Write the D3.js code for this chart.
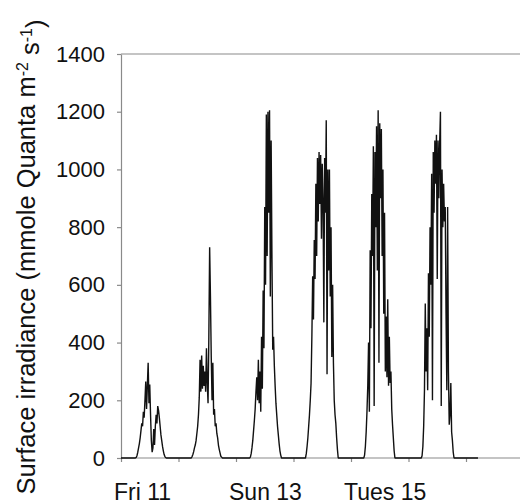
<!DOCTYPE html>
<html>
<head>
<meta charset="utf-8">
<script src="https://cdn.jsdelivr.net/npm/d3@7"></script>
<style>
  body { margin: 0; background: #fff; }
  svg { display: block; font-family: Arial, "Liberation Sans", sans-serif; }
</style>
</head>
<body>
<div id="chart"></div>
<script>
// irradiance readings, 20 minutes apart, from first light to dark
const stepMinutes = 20;
const dayDates = ["2008-04-11", "2008-04-12", "2008-04-13", "2008-04-14", "2008-04-15", "2008-04-16"];
const firstReading = ["06:00", "05:20", "05:40", "05:00", "05:20", "05:20"];

const fri = [0, 2, 8, 20, 35, 50, 70, 95, 120, 110, 160, 140, 200, 265, 170, 250, 330, 190, 255, 150,
  60, 20, 35, 100, 45, 110, 150, 120, 180, 165, 140, 110, 80, 60, 40, 25, 12, 5, 1, 0];
const sat = [0, 5, 12, 22, 35, 45, 60, 85, 110, 150, 210, 340, 230, 355, 240, 320, 250, 300, 230, 380,
  260, 190, 420, 730, 560, 350, 200, 330, 150, 170, 110, 120, 85, 70, 45, 30, 18, 6, 3, 0];
const sun = [0, 3, 15, 35, 60, 95, 130, 170, 230, 280, 200, 340, 190, 300, 160, 420, 240, 580, 380, 870,
  600, 1190, 700, 1200, 850, 1205, 560, 1100, 700, 375, 420, 320, 250, 190, 150, 110, 80, 50, 25, 10, 0];
const mon = [0, 15, 40, 70, 110, 150, 200, 260, 420, 630, 480, 755, 620, 950, 700, 1040, 820, 1060, 880, 1050,
  760, 1020, 900, 470, 1040, 850, 1170, 290, 1000, 650, 1000, 560, 800, 350, 600, 330, 200, 150, 120, 70, 30, 0];
const tue = [0, 10, 40, 90, 160, 250, 400, 160, 720, 450, 915, 700, 1080, 180, 1060, 800, 1150, 650, 1205, 330,
  1160, 900, 1140, 700, 1000, 500, 850, 300, 490, 280, 550, 250, 420, 260, 300, 170, 115, 70, 25, 0];
const wed = [0, 8, 40, 110, 235, 535, 300, 450, 235, 640, 420, 800, 600, 985, 200, 1060, 850, 1100, 950, 1120,
  620, 1100, 900, 1090, 1200, 180, 1000, 800, 950, 820, 870, 500, 235, 870, 300, 115, 150, 260, 90, 60, 20, 0];
const dailyReadings = [fri, sat, sun, mon, tue, wed];

const recordStart = "2008-04-11T00:00";
const recordEnd = "2008-04-17T05:00";

const yTicks = [0, 200, 400, 600, 800, 1000, 1200, 1400];
const xLabels = ["Fri 11", "Sun 13", "Tues 15"];
const xLabelDates = ["2008-04-11", "2008-04-13", "2008-04-15"];

const parseTime = d3.timeParse("%Y-%m-%dT%H:%M");
const parseDay = d3.timeParse("%Y-%m-%d");

let series = [{t: parseTime(recordStart), v: 0}];
dailyReadings.forEach(function(vals, i) {
  let t0 = parseTime(dayDates[i] + "T" + firstReading[i]);
  vals.forEach(function(v, j) {
    series.push({t: d3.timeMinute.offset(t0, j * stepMinutes), v: v});
  });
});
series.push({t: parseTime(recordEnd), v: 0});

// chart area
const W = 520, H = 504;
const plotLeft = 121, plotTop = 54, plotBottom = 458;
const dayPx = 57.5;

const x0 = parseDay(dayDates[0]);
const x = d3.scaleTime()
  .domain([x0, d3.timeDay.offset(x0, 7)])
  .range([plotLeft, plotLeft + 7 * dayPx]);

const y = d3.scaleLinear()
  .domain([0, 1400])
  .range([plotBottom, plotTop]);

const svg = d3.select("#chart").append("svg")
  .attr("width", W)
  .attr("height", H);

const axisColor = "#8a8a8a";

// top frame line
svg.append("line")
  .attr("x1", plotLeft).attr("x2", W)
  .attr("y1", y(1400)).attr("y2", y(1400))
  .attr("stroke", axisColor)
  .attr("stroke-width", 1.2);

const gx = svg.append("g")
  .attr("transform", "translate(0," + plotBottom + ")")
  .call(d3.axisBottom(x)
    .ticks(d3.timeDay.every(1))
    .tickSize(4)
    .tickSizeOuter(0)
    .tickFormat(""));
gx.select(".domain").attr("stroke", axisColor).attr("stroke-width", 1.2).attr("d", "M" + plotLeft + ",0H" + W);
gx.selectAll(".tick line").attr("stroke", axisColor).attr("stroke-width", 1.2);

const gy = svg.append("g")
  .attr("transform", "translate(" + plotLeft + ",0)")
  .call(d3.axisLeft(y)
    .tickValues(yTicks)
    .tickFormat(d3.format("d"))
    .tickSize(4)
    .tickSizeOuter(0)
    .tickPadding(12));
gy.select(".domain").attr("stroke", axisColor).attr("stroke-width", 1.2);
gy.selectAll(".tick line").attr("stroke", axisColor).attr("stroke-width", 1.2);
gy.selectAll(".tick text")
  .attr("fill", "#111")
  .style("font-size", "22px")
  .style("font-family", "Arial, 'Liberation Sans', sans-serif");

// day labels
svg.append("g").selectAll("text")
  .data(xLabels)
  .enter().append("text")
  .attr("x", function(d, i) { return x(parseDay(xLabelDates[i])) - 7; })
  .attr("y", 500)
  .attr("fill", "#111")
  .style("font-size", "23px")
  .text(function(d) { return d; });

// y axis title
const title = svg.append("text")
  .attr("transform", "translate(35,257) rotate(-90)")
  .attr("text-anchor", "middle")
  .attr("fill", "#111")
  .style("font-size", "25.5px");
title.append("tspan").text("Surface irradiance (mmole Quanta m");
title.append("tspan").attr("dy", "-0.45em").style("font-size", "16px").text("-2");
title.append("tspan").attr("dy", "0.45em").text(" s");
title.append("tspan").attr("dy", "-0.45em").style("font-size", "16px").text("-1");
title.append("tspan").attr("dy", "0.45em").text(")");

const line = d3.line()
  .x(function(d) { return x(d.t); })
  .y(function(d) { return y(d.v); });

svg.append("path")
  .datum(series)
  .attr("fill", "none")
  .attr("stroke", "#111")
  .attr("stroke-width", 1.4)
  .attr("stroke-linejoin", "bevel")
  .attr("d", line);
</script>
</body>
</html>
